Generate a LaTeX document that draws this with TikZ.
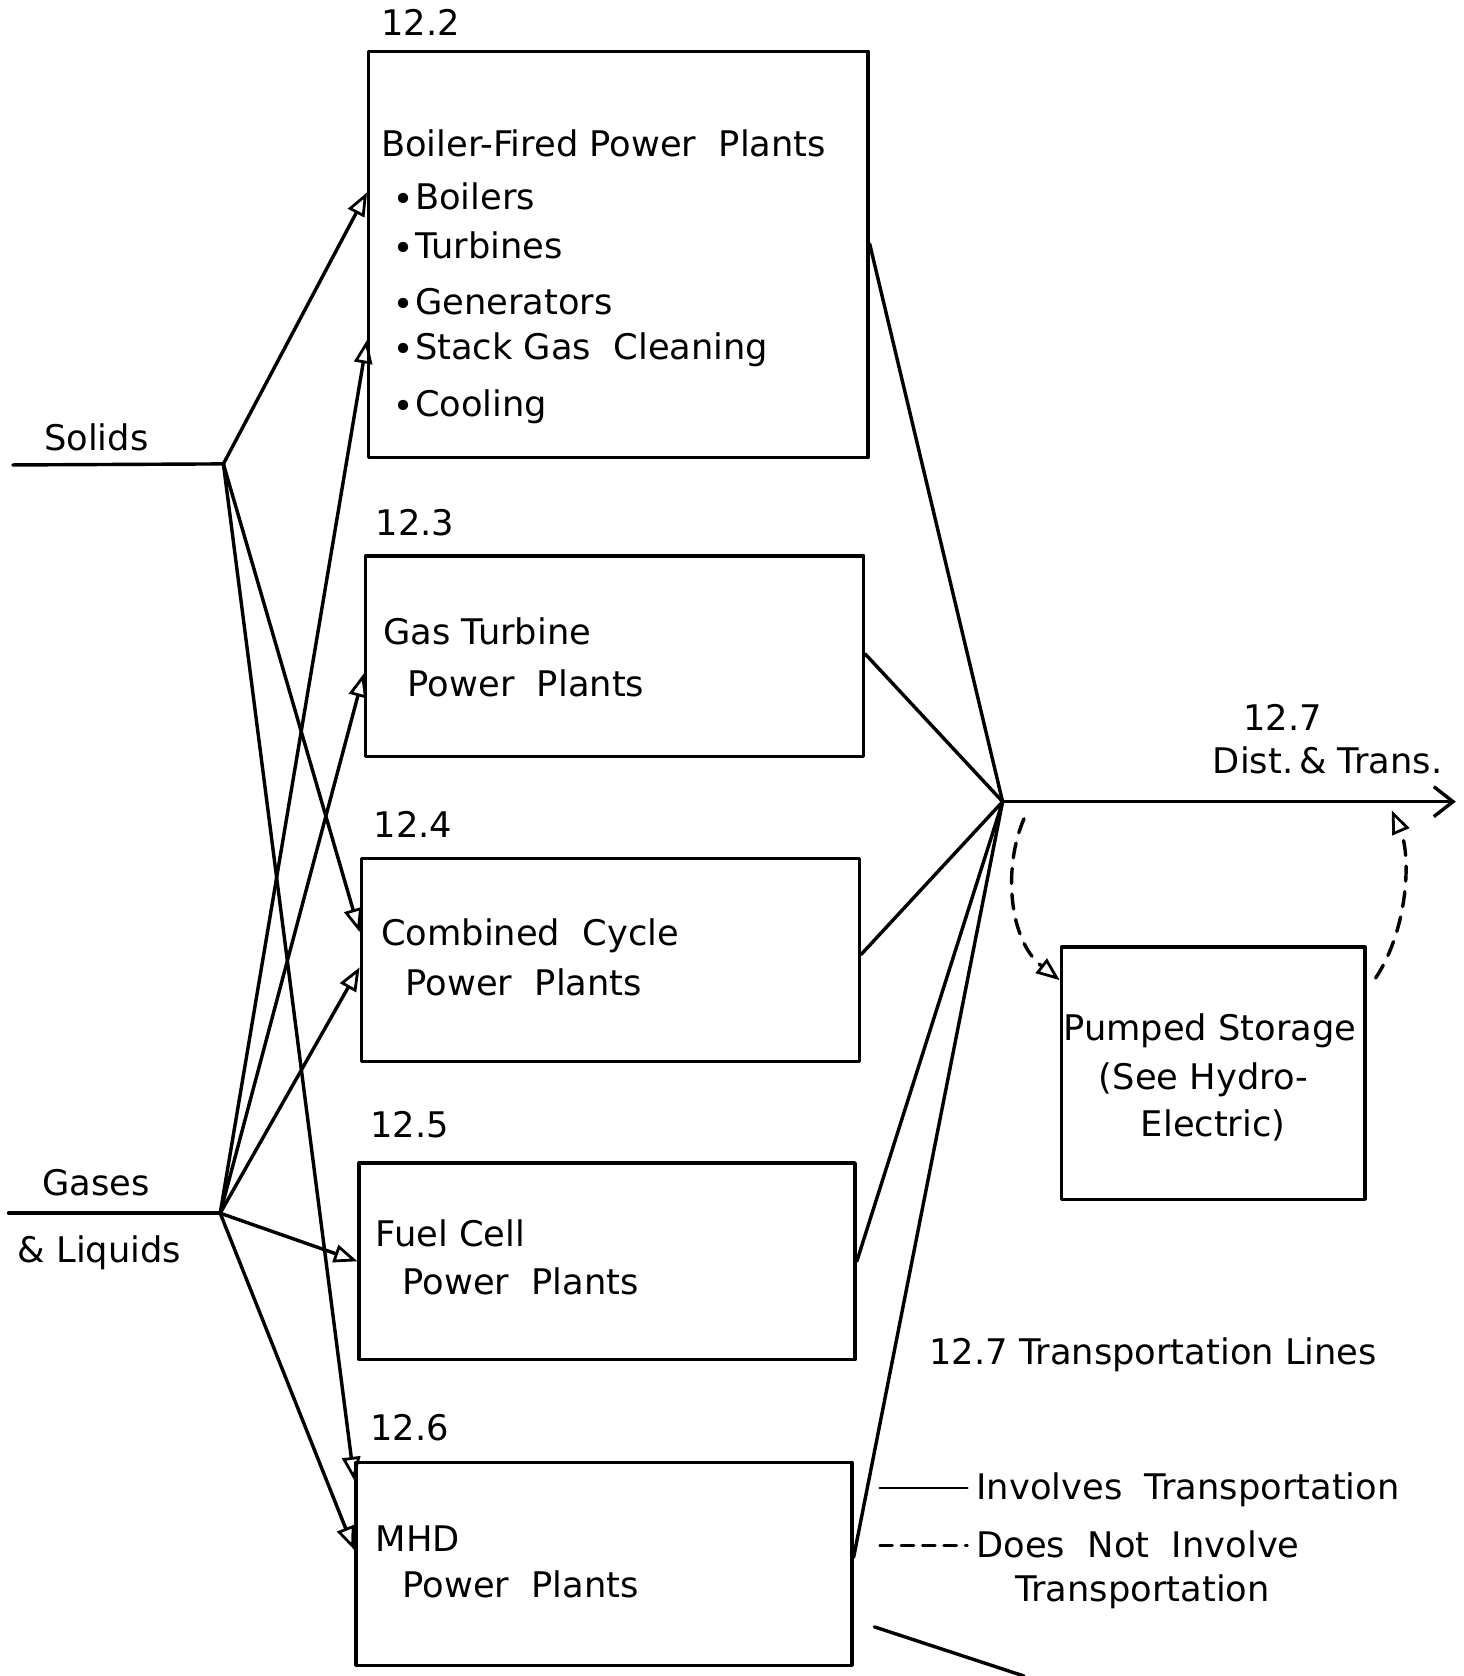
\documentclass[tikz,border=0pt]{standalone}
\usepackage{fontspec}
\setmainfont{DejaVu Sans}
\usetikzlibrary{arrows.meta}
\begin{document}
\begin{tikzpicture}[x=0.5pt,y=-0.5pt,line width=1.6pt,line join=round,line cap=round]
\tikzset{
 box/.style={draw,line width=1.6pt,rectangle,inner sep=0pt},
 txt/.style={anchor=west,inner sep=0pt,text height=0.73em,text depth=0pt,yshift=-2pt,font=\fontsize{16.5}{20}\selectfont},
 ctxt/.style={txt,anchor=center},
 flow/.style={-{Triangle[open,length=11pt,width=8.5pt,line width=1.3pt]}},
 dsh/.style={dash pattern=on 7pt off 5pt},
 bigtip/.style={-{Straight Barb[length=9pt,width=14pt,line width=1.6pt]}}
}
\useasboundingbox (0,0) rectangle (1369,1568);
\fill[white] (0,0) rectangle (1369,1568);

% boxes
\node[box,minimum width=233.5pt,minimum height=190pt] (b2) at (578.5,238) {};
\node[box,minimum width=233pt,minimum height=94pt] (b3) at (575,614) {};
\node[box,minimum width=233pt,minimum height=95pt] (b4) at (571,898) {};
\node[box,minimum width=232pt,minimum height=92pt] (b5) at (568,1180) {};
\node[box,minimum width=232pt,minimum height=95pt] (b6) at (565,1463) {};
\node[box,minimum width=142pt,minimum height=118pt] (pb) at (1135,1004) {};

% box texts
\node[txt] (t22) at (355,22) {12.2};
\node[txt] (t22a) at (355,135) {Boiler-Fired Power\ \ Plants};
\node[txt] (t22b) at (366,185) {∙Boilers};
\node[txt] (t22c) at (366,231) {∙Turbines};
\node[txt] (t22d) at (366,283) {∙Generators};
\node[txt] (t22e) at (366,325) {∙Stack Gas\ \ Cleaning};
\node[txt] (t22f) at (366,378) {∙Cooling};

\node[txt] (t23) at (350,490) {12.3};
\node[txt] (t23a) at (357,592) {Gas Turbine};
\node[txt] (t23b) at (380,640) {Power\ \ Plants};

\node[txt] (t24) at (348,772) {12.4};
\node[txt] (t24a) at (355,873) {Combined\ \ Cycle};
\node[txt] (t24b) at (378,920) {Power\ \ Plants};

\node[txt] (t25) at (345,1053) {12.5};
\node[txt] (t25a) at (350,1155) {Fuel Cell};
\node[txt] (t25b) at (375,1200) {Power\ \ Plants};

\node[txt] (t26) at (345,1336) {12.6};
\node[txt] (t26a) at (350,1440) {MHD};
\node[txt] (t26b) at (375,1483) {Power\ \ Plants};

\node[ctxt] (tp1) at (1132,962) {Pumped Storage};
\node[ctxt] (tp2) at (1126,1008) {(See Hydro-};
\node[ctxt] (tp3) at (1135,1052) {Electric)};

\node[ctxt] (t27) at (1200,672) {12.7};
\node[ctxt] (t27a) at (1242,712) {Dist.\,\& Trans.};

\node[ctxt] (tsol) at (90,410) {Solids};
\node[ctxt] (tgas) at (90,1107) {Gases};
\node[ctxt] (tliq) at (93,1170) {\& Liquids};

\node[txt] (tleg) at (868,1265) {12.7 Transportation Lines};
\node[txt] (tleg1) at (912,1392) {Involves\ \ Transportation};
\node[txt] (tleg2) at (912,1446) {Does\ \ Not\ \ Involve};
\node[txt] (tleg3) at (948,1487) {Transportation};

% junctions and free ends
\coordinate (J1) at (209,434);
\coordinate (J2) at (206,1135);
\coordinate (J3) at (938,750);
\coordinate (sL) at (12,435);
\coordinate (gL) at (8,1135);
\coordinate (tE) at (1362,750);

\draw (sL) -- (J1);
\draw (gL) -- (J2);

% solids
\draw[flow] (J1) -- (b2.west |- 0,180);
\draw[flow] (J1) -- (b4.west |- 0,872);
\draw[flow] (J1) -- (b6.west |- 0,1385);
% gases & liquids
\draw[flow] (J2) -- (b2.west |- 0,318);
\draw[flow] (J2) -- (b3.west |- 0,630);
\draw[flow] (J2) -- (b4.west |- 0,905);
\draw[flow] (J2) -- (b5.west |- 0,1180);
\draw[flow] (J2) -- (b6.west |- 0,1450);

% to distribution
\draw (b2.east |- 0,228) -- (J3);
\draw (b3.east |- 0,612) -- (J3);
\draw (b4.east |- 0,893) -- (J3);
\draw (b5.east |- 0,1180) -- (J3);
\draw (b6.east |- 0,1457) -- (J3);
\draw[bigtip] (J3) -- (tE);

% pumped storage loops
\coordinate (d1) at (958,766);
\coordinate (d2) at (1287,915);
\draw[dsh,flow] (d1) .. controls (938,812) and (944,880) .. (pb.west |- 0,917);
\draw[dsh,flow] (d2) .. controls (1318,868) and (1320,800) .. (1302,758);

% legend
\coordinate (l1a) at (823,1392); \coordinate (l1b) at (905,1392);
\coordinate (l2a) at (823,1446); \coordinate (l2b) at (905,1446);
\draw[line width=1.3pt] (l1a) -- (l1b);
\draw[line width=1.3pt,dash pattern=on 6pt off 4pt] (l2a) -- (l2b);

% stray stroke at bottom
\coordinate (st1) at (818,1522); \coordinate (st2) at (958,1568);
\draw (st1) -- (st2);
\end{tikzpicture}
\end{document}
